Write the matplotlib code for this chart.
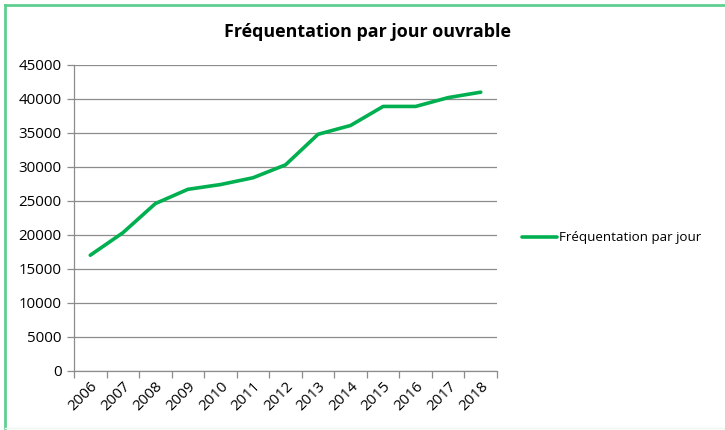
import matplotlib
matplotlib.use("Agg")
import matplotlib.pyplot as plt
from matplotlib.lines import Line2D

years = ["2006", "2007", "2008", "2009", "2010", "2011", "2012",
         "2013", "2014", "2015", "2016", "2017", "2018"]
frequentation = [17000, 20300, 24600, 26700, 27400, 28400, 30300,
                 34800, 36100, 38900, 38900, 40200, 41000]
yticks = [0, 5000, 10000, 15000, 20000, 25000, 30000, 35000, 40000, 45000]

plt.rcParams['font.family'] = ['Open Sans', 'DejaVu Sans']

fig = plt.figure(figsize=(7.25, 4.30), dpi=100)
ax = fig.add_axes([74/725, 1-370.7/430, (497-74)/725, (370.7-65)/430])

x = list(range(len(years)))
ax.plot(x, frequentation, color="#00b050", lw=2.6, solid_capstyle="round",
        label="Fréquentation par jour")

ax.set_xlim(-0.5, len(years)-0.5)
ax.set_ylim(0, 45000)
ax.set_yticks(yticks)
ax.set_yticklabels([str(v) for v in yticks], fontsize=10.8)
ax.yaxis.grid(True, color="#8c8c8c", lw=0.9)
ax.set_axisbelow(True)

ax.set_xticks(x)
ax.set_xticklabels(years, rotation=45, fontsize=10.8, ha="right", rotation_mode="anchor")
ax.tick_params(axis="x", which="major", length=0, pad=6)
ax.set_xticks([i - 0.5 for i in range(len(years)+1)], minor=True)
ax.tick_params(axis="x", which="minor", length=5, color="#8c8c8c", width=0.9)
ax.tick_params(axis="y", length=5, color="#8c8c8c", width=0.9, pad=4)

for s in ["top", "right"]:
    ax.spines[s].set_visible(False)
for s in ["left", "bottom"]:
    ax.spines[s].set_color("#8c8c8c")
    ax.spines[s].set_linewidth(0.9)

fig.text(368/725, 1-32/430, "Fréquentation par jour ouvrable", ha="center", va="center",
         fontsize=12.9, fontweight="bold")

ax.legend(loc="center left", bbox_to_anchor=(510/725, 1-238/430), bbox_transform=fig.transFigure,
          frameon=False, fontsize=9.6, handlelength=2.6, handletextpad=0.2)

# green frame
fig.add_artist(Line2D([4.5/725, 1], [1-5/430, 1-5/430], color="#5fcf91", lw=2, transform=fig.transFigure))
fig.add_artist(Line2D([4.5/725, 4.5/725], [1-5/430, 1-428/430], color="#5fcf91", lw=2, transform=fig.transFigure))
fig.add_artist(Line2D([4.5/725, 1], [1-428/430, 1-428/430], color="#eef7f1", lw=1, transform=fig.transFigure))

fig.savefig("out.png", dpi=100)
